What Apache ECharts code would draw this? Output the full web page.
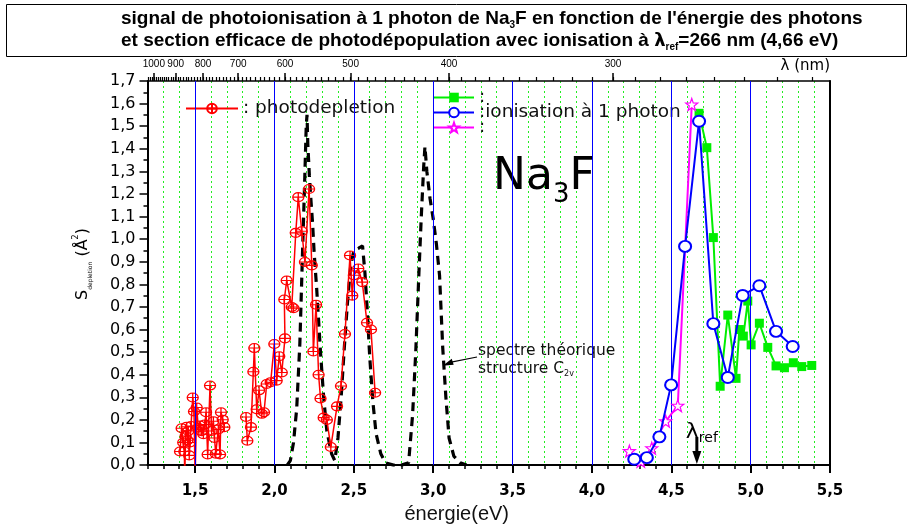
<!DOCTYPE html>
<html><head><meta charset="utf-8">
<script src="https://cdn.jsdelivr.net/npm/echarts@6/dist/echarts.min.js"></script>
<style>html,body{margin:0;padding:0;background:#fff}#c{width:912px;height:529px}</style>
</head><body><div id="c"></div>
<script>
// ---- data (energy in eV, cross-section in Å²) ----
const pdE = [1.405,1.415,1.425,1.432,1.435,1.440,1.447,1.452,1.457,1.463,1.468,1.474,1.485,1.493,1.500,1.510,1.520,1.530,1.540,1.552,1.561,1.569,1.579,1.594,1.604,1.615,1.622,1.630,1.646,1.657,1.663,1.674,1.684,1.750,1.821,1.829,1.852,1.867,1.873,1.888,1.903,1.920,1.934,1.951,1.976,1.999,2.014,2.030,2.046,2.066,2.062,2.077,2.109,2.120,2.134,2.150,2.172,2.192,2.218,2.235,2.245,2.262,2.278,2.290,2.310,2.330,2.355,2.394,2.419,2.444,2.476,2.490,2.500,2.528,2.553,2.583,2.608,2.634];
const pdS = [0.060,0.163,0.100,0.060,-0.05,0.129,0.170,0.110,0.151,0.043,0.100,0.173,0.299,0.237,-0.05,0.255,0.165,0.175,0.150,0.137,0.180,0.234,0.047,0.352,0.151,0.194,0.120,0.050,0.158,0.047,0.234,0.201,0.168,null,0.213,0.108,0.168,0.413,0.518,0.247,0.331,0.227,0.234,0.359,0.367,0.536,0.374,0.482,0.410,0.561,0.733,0.817,0.700,0.694,1.028,1.186,1.035,0.899,1.222,0.884,0.503,0.710,0.400,0.295,0.210,0.200,0.080,0.260,0.350,0.580,0.928,0.750,0.840,0.870,0.810,0.630,0.600,0.320];

const thE = [2.08,2.10,2.12,2.14,2.16,2.175,2.19,2.20,2.205,2.21,2.22,2.23,2.24,2.25,2.266,2.29,2.31,2.33,2.36,2.38,2.40,2.42,2.44,2.46,2.48,2.50,2.53,2.555,2.57,2.585,2.60,2.62,2.64,2.67,2.70,2.75,2.80,2.845,2.87,2.89,2.91,2.925,2.94,2.948,2.96,2.98,3.00,3.02,3.04,3.06,3.08,3.10,3.13,3.17,3.21];
const thS = [0,0.02,0.10,0.25,0.54,0.90,1.25,1.50,1.55,1.42,1.28,1.17,1.07,0.94,0.78,0.50,0.30,0.15,0.05,0.02,0.12,0.30,0.52,0.72,0.88,0.95,0.96,0.97,0.85,0.68,0.48,0.28,0.14,0.05,0.01,0.0,0.0,0.01,0.22,0.50,0.85,1.10,1.32,1.41,1.30,1.18,1.09,0.98,0.84,0.52,0.30,0.12,0.04,0.01,0.0];

const gE = [4.675,4.724,4.765,4.808,4.856,4.908,4.929,4.954,4.982,5.003,5.055,5.108,5.160,5.213,5.269,5.322,5.385];
const gS = [1.557,1.405,1.007,0.349,0.664,0.384,0.600,0.571,0.726,0.532,0.628,0.521,0.439,0.431,0.453,0.436,0.441];

const bE = [4.267,4.346,4.425,4.499,4.587,4.675,4.765,4.856,4.950,5.055,5.160,5.265];
const bS = [0.026,0.033,0.125,0.355,0.968,1.522,0.626,0.388,0.751,0.794,0.592,0.525];

const mE = [4.236,4.308,4.377,4.465,4.541,4.629];
const mS = [0.062,0.017,0.075,0.194,0.263,1.596];

// ---- axes / ticks ----
const xMajorTicks = [1.5,2.0,2.5,3.0,3.5,4.0,4.5,5.0,5.5];
const blueLines = [1.5,2.0,2.5,3.0,3.5,4.0,4.5,5.0];
const lambdaMajor = [1000,900,800,700,600,500,400,300];
const lambdaMinor = [];
for (let l = 230; l <= 1030; l += 10) lambdaMinor.push(l);
const HC = 1239.84;       // eV·nm
const lambdaRef = 266;    // nm

const FONT = 'DejaVu Sans';
const comma = v => v.toFixed(1).replace('.', ',');
const zip = (a, b) => a.map((x, i) => [x, b[i] === null ? '-' : b[i]]);

const PLUS_CIRCLE = 'path://M10,0A10,10,0,1,1,-10,0A10,10,0,1,1,10,0ZM-10,0L10,0M0,-10L0,10';
const STAR = 'path://M0,-10L2.351,-3.236L9.511,-3.09L3.804,1.236L5.878,8.09L0,4L-5.878,8.09L-3.804,1.236L-9.511,-3.09L-2.351,-3.236Z';

const NAMES = {pd: 'photodepletion', g: 'ionisation A', b: 'ionisation à 1 photon', m: 'ionisation C'};

function legendAt(name, left, top, width, text) {
  return {
    show: true, data: [name], left: left, top: top, padding: 0,
    itemWidth: width, itemHeight: 12, selectedMode: false,
    formatter: () => text,
    textStyle: {fontFamily: FONT, fontSize: 18.5, color: '#111', lineHeight: 16}
  };
}

const chart = echarts.init(document.getElementById('c'), null, {renderer: 'canvas'});
const option = {
  animation: false,
  backgroundColor: '#fff',
  grid: {left: 147.5, right: 82, top: 81, bottom: 54, containLabel: false},
  legend: [
    legendAt(NAMES.pd, 185, 99, 52, ': photodepletion'),
    legendAt(NAMES.g, 433, 88, 40, ':'),
    legendAt(NAMES.b, 433, 103, 40, ':ionisation à 1 photon'),
    legendAt(NAMES.m, 433, 118, 40, ':')
  ],
  xAxis: [
    {type: 'value', position: 'bottom', min: 1.2, max: 5.5, interval: 0.1,
     axisLine: {show: true, onZero: false, lineStyle: {color: '#000', width: 2}},
     axisTick: {show: true, length: 4, lineStyle: {color: '#000', width: 1.5}},
     axisLabel: {show: false},
     splitLine: {show: true, lineStyle: {color: '#22ee22', width: 1, type: [2, 3]}}},
    {type: 'value', position: 'bottom', min: 1.2, max: 5.5,
     axisLine: {show: false, onZero: false},
     axisTick: {show: true, customValues: xMajorTicks, length: 8, lineStyle: {color: '#000', width: 2}},
     axisLabel: {show: true, customValues: xMajorTicks, formatter: comma, margin: 19,
                 fontFamily: FONT, fontWeight: 'bold', fontSize: 15, color: '#000'},
     splitLine: {show: false},
     name: 'énergie(eV)', nameLocation: 'middle', nameGap: 37,
     nameTextStyle: {fontFamily: 'Liberation Sans', fontSize: 20, color: '#111', padding: [0, 64, 0, 0]}},
    {type: 'value', position: 'top', min: 1.2, max: 5.5,
     axisLine: {show: true, onZero: false, lineStyle: {color: '#000', width: 1.5}},
     axisTick: {show: true, customValues: lambdaMajor.map(l => HC / l), length: 8, lineStyle: {color: '#000', width: 1.5}},
     axisLabel: {show: true, customValues: lambdaMajor.map(l => HC / l), formatter: v => String(Math.round(HC / v)),
                 margin: 12, fontFamily: 'Liberation Sans', fontSize: 10, color: '#000'},
     splitLine: {show: false}},
    {type: 'value', position: 'top', min: 1.2, max: 5.5,
     axisLine: {show: false, onZero: false},
     axisTick: {show: true, customValues: lambdaMinor.map(l => HC / l), length: 4, lineStyle: {color: '#000', width: 1.2}},
     axisLabel: {show: false}, splitLine: {show: false}}
  ],
  yAxis: [
    {type: 'value', position: 'left', min: 0, max: 1.7, interval: 0.1,
     axisLine: {show: true, onZero: false, lineStyle: {color: '#000', width: 2}},
     axisTick: {show: true, length: 8, lineStyle: {color: '#000', width: 1.5}},
     minorTick: {show: true, splitNumber: 2, length: 4, lineStyle: {color: '#000', width: 1.5}},
     axisLabel: {formatter: comma, margin: 12, fontFamily: FONT, fontSize: 16, color: '#000'},
     splitLine: {show: false},
     name: '{s|S}{d|depletion}{s| (Å}{u|2}{s|)}', nameLocation: 'middle', nameGap: 54, nameRotate: 90,
     nameTextStyle: {color: '#000', padding: [0, 0, 0, 18], rich: {
       s: {fontFamily: FONT, fontSize: 16, color: '#000', lineHeight: 22},
       d: {fontFamily: FONT, fontSize: 6, color: '#000', verticalAlign: 'bottom', lineHeight: 8},
       u: {fontFamily: FONT, fontSize: 8, color: '#000', verticalAlign: 'top', lineHeight: 8}
     }}},
    {type: 'value', position: 'right', min: 0, max: 1.7,
     axisLine: {show: true, onZero: false, lineStyle: {color: '#000', width: 2}},
     axisTick: {show: false}, axisLabel: {show: false}, splitLine: {show: false}}
  ],
  series: [
    {type: 'line', name: '_vlines', data: [], z: 1, silent: true,
     markLine: {silent: true, symbol: ['none', 'none'], label: {show: false}, animation: false,
                lineStyle: {color: '#0000ff', width: 1, type: 'solid'},
                emphasis: {disabled: true},
                data: blueLines.map(v => ({xAxis: v}))}},
    {type: 'line', name: 'spectre théorique', data: zip(thE, thS), symbol: 'none', z: 2, silent: true,
     lineStyle: {color: '#000', width: 3.2, type: [9, 6]}},
    {type: 'line', name: NAMES.pd, data: zip(pdE, pdS), symbol: PLUS_CIRCLE, symbolSize: [11, 9], z: 3,
     clip: true, connectNulls: false,
     itemStyle: {color: 'rgba(255,255,255,0)', borderColor: '#ff0000', borderWidth: 1.2},
     lineStyle: {color: '#ff0000', width: 1.5}},
    {type: 'line', name: NAMES.g, data: zip(gE, gS), symbol: 'rect', symbolSize: 9, z: 4,
     itemStyle: {color: '#00ee00'}, lineStyle: {color: '#00ee00', width: 2}},
    {type: 'line', name: NAMES.m, data: zip(mE, mS), symbol: STAR, symbolSize: 12, z: 5,
     itemStyle: {color: '#ffffff', borderColor: '#ff00ff', borderWidth: 1.2}, lineStyle: {color: '#ff00ff', width: 2}},
    {type: 'line', name: NAMES.b, data: zip(bE, bS), symbol: 'emptyCircle', symbolSize: [12, 11], z: 6,
     itemStyle: {color: '#0000ff', borderWidth: 1.5}, lineStyle: {color: '#0000ff', width: 2}}
  ]
};
chart.setOption(option);

// ---- annotations ----
const px = (x, y) => chart.convertToPixel({xAxisIndex: 0, yAxisIndex: 0}, [x, y]);
const eRef = HC / lambdaRef;
const refBase = px(eRef, 0);
const specPt = px(3.06, 0.44);

chart.setOption({
  graphic: [
    {type: 'rect', silent: true, shape: {x: 6.5, y: 4.5, width: 900, height: 52},
     style: {fill: 'none', stroke: '#000', lineWidth: 1}},
    {type: 'text', silent: true, style: {x: 121, y: 19,
      text: "signal de photoionisation à 1 photon de Na{s|3}F en fonction de l'énergie des photons",
      fontFamily: 'Liberation Sans', fontWeight: 'bold', fontSize: 19, fill: '#000', lineHeight: 22,
      textAlign: 'left', textVerticalAlign: 'middle',
      rich: {s: {fontFamily: 'Liberation Sans', fontWeight: 'bold', fontSize: 10, fill: '#000', verticalAlign: 'bottom', lineHeight: 8}}}},
    {type: 'text', silent: true, style: {x: 121, y: 41,
      text: "et section efficace de photodépopulation avec ionisation à {l|λ}{s|ref}=266 nm (4,66 eV)",
      fontFamily: 'Liberation Sans', fontWeight: 'bold', fontSize: 19, fill: '#000', lineHeight: 22,
      textAlign: 'left', textVerticalAlign: 'middle',
      rich: {l: {fontFamily: 'DejaVu Sans', fontWeight: 'bold', fontSize: 18, fill: '#000', lineHeight: 22},
             s: {fontFamily: 'Liberation Sans', fontWeight: 'bold', fontSize: 10, fill: '#000', verticalAlign: 'bottom', lineHeight: 8}}}},
    {type: 'text', silent: true, style: {x: 830, y: 66, text: 'λ (nm)', fontFamily: FONT, fontSize: 15, fill: '#000',
      textAlign: 'right', textVerticalAlign: 'middle'}},
    {type: 'text', silent: true, style: {x: 493, y: 148, text: 'Na{s|3}F', fontFamily: FONT, fontSize: 44, fill: '#000',
      lineHeight: 60, textAlign: 'left', textVerticalAlign: 'top',
      rich: {s: {fontFamily: FONT, fontSize: 26, fill: '#000', verticalAlign: 'bottom', lineHeight: 10}}}},
    {type: 'text', silent: true, style: {x: 478, y: 342, text: 'spectre théorique\nstructure C{s|2v}', fontFamily: FONT,
      fontSize: 15.5, fill: '#111', lineHeight: 18, textAlign: 'left', textVerticalAlign: 'top',
      rich: {s: {fontFamily: FONT, fontSize: 8, fill: '#111', verticalAlign: 'bottom', lineHeight: 6}}}},
    {type: 'line', silent: true, shape: {x1: 477, y1: 357, x2: specPt[0] + 6, y2: specPt[1] - 3},
     style: {stroke: '#000', lineWidth: 1.2}},
    {type: 'polygon', silent: true, shape: {points: [[specPt[0], specPt[1]], [specPt[0] + 9, specPt[1] - 7], [specPt[0] + 11, specPt[1] - 1]]},
     style: {fill: '#000'}},
    {type: 'text', silent: true, style: {x: refBase[0] - 11, y: 432, text: 'λ{s|ref}', fontFamily: FONT, fontSize: 22, fill: '#000',
      lineHeight: 26, textAlign: 'left', textVerticalAlign: 'middle',
      rich: {s: {fontFamily: FONT, fontSize: 14, fill: '#000', verticalAlign: 'bottom', lineHeight: 4}}}},
    {type: 'line', silent: true, shape: {x1: refBase[0], y1: refBase[1] - 28, x2: refBase[0], y2: refBase[1] - 12},
     style: {stroke: '#000', lineWidth: 3}},
    {type: 'polygon', silent: true, shape: {points: [[refBase[0] - 4.5, refBase[1] - 14], [refBase[0] + 4.5, refBase[1] - 14], [refBase[0], refBase[1] - 1]]},
     style: {fill: '#000'}}
  ]
});
</script></body></html>
